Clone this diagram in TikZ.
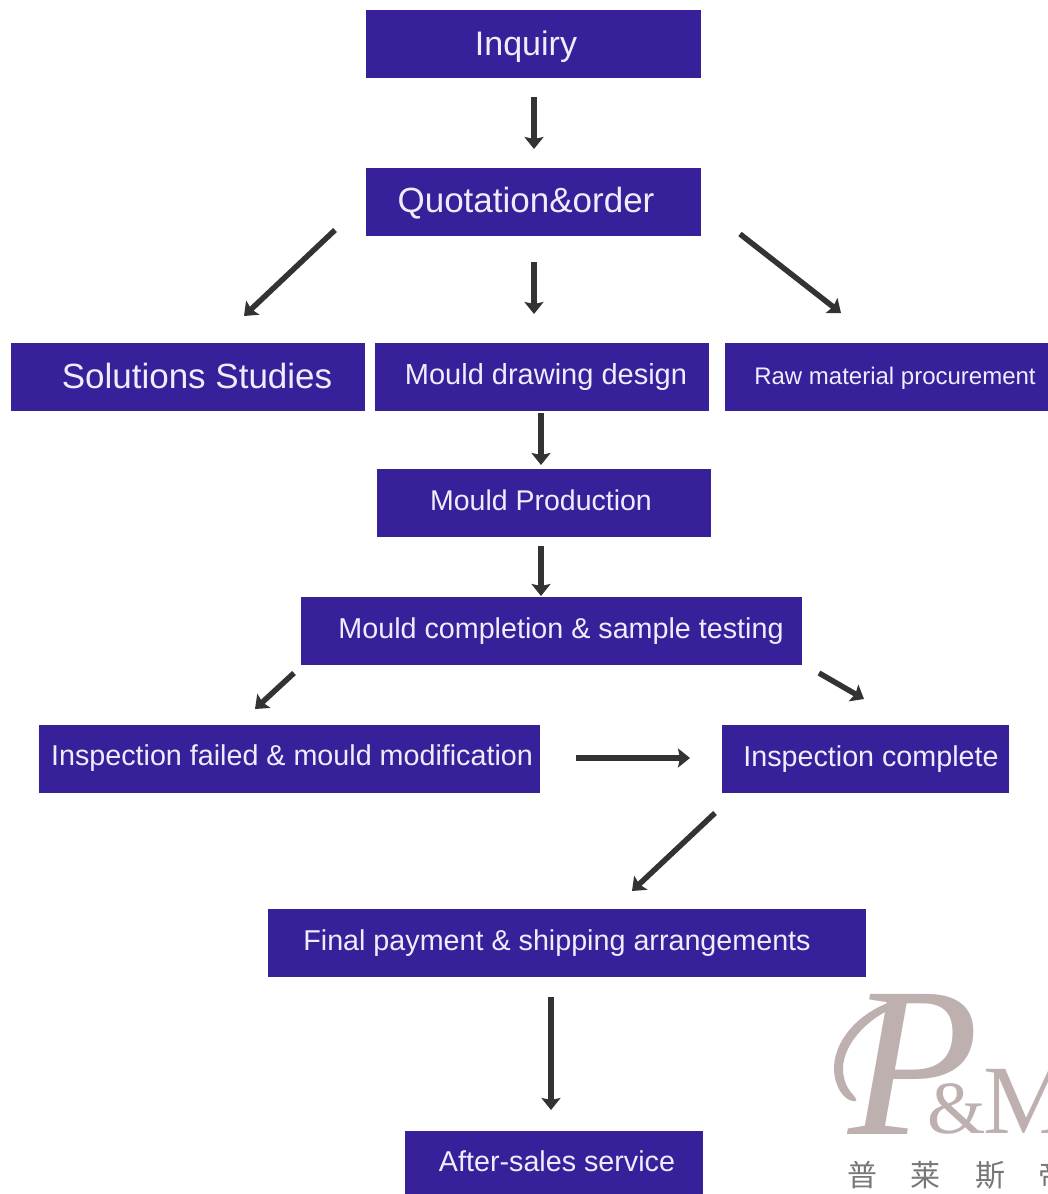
\documentclass[tikz,border=0pt]{standalone}
\usepackage{fontspec}
\setmainfont{Liberation Sans}
\newfontfamily\logoserif{Liberation Serif}
\newfontfamily\cjk{Noto Sans CJK SC}
\usetikzlibrary{arrows.meta}
\definecolor{boxblue}{HTML}{38209A}
\definecolor{arrowgray}{HTML}{333333}
\definecolor{logopink}{HTML}{BFB0B0}
\definecolor{cjkgray}{HTML}{777777}
\definecolor{labeltext}{HTML}{F1ECFB}
\tikzset{
  x=1pt,y=-1pt,
  flowbox/.style={fill=boxblue,draw=none,inner sep=0pt,anchor=north west},
  flowtext/.style={text=labeltext,inner sep=0pt,anchor=base,font=\fontsize{#1}{#1}\selectfont},
  flowtext/.default=30,
  flowarrow/.style={draw=arrowgray,line width=5.5pt,-{Stealth[length=12pt,width=19pt,inset=2pt]}},
  logotext/.style={text=logopink,inner sep=0pt,anchor=base west},
  cjktext/.style={text=cjkgray,inner sep=0pt,font=\cjk\fontsize{30}{30}\selectfont},
}
\begin{document}
\begin{tikzpicture}
\useasboundingbox (0,0) rectangle (1048,1194);
\begin{scope}
\clip (0,0) rectangle (1048,1194);
\fill[white] (0,0) rectangle (1048,1194);
\node[flowbox,minimum width=335pt,minimum height=68pt] (inq) at (366,10) {};
\node[flowbox,minimum width=335pt,minimum height=68pt] (quo) at (366,168) {};
\node[flowbox,minimum width=354pt,minimum height=68pt] (sol) at (11,343) {};
\node[flowbox,minimum width=334pt,minimum height=68pt] (draw) at (375,343) {};
\node[flowbox,minimum width=330pt,minimum height=68pt] (raw) at (725,343) {};
\node[flowbox,minimum width=334pt,minimum height=68pt] (prod) at (377,469) {};
\node[flowbox,minimum width=501pt,minimum height=68pt] (comp) at (301,597) {};
\node[flowbox,minimum width=501pt,minimum height=68pt] (fail) at (39,725) {};
\node[flowbox,minimum width=287pt,minimum height=68pt] (insp) at (722,725) {};
\node[flowbox,minimum width=598pt,minimum height=68pt] (final) at (268,909) {};
\node[flowbox,minimum width=298pt,minimum height=70pt] (after) at (405,1131) {};

\node[flowtext=34] (tinq) at (526,55) {Inquiry};
\node[flowtext=35] (tquo) at (526,212) {Quotation\&order};
\node[flowtext=35] (tsol) at (197,388) {Solutions Studies};
\node[flowtext=29] (tdraw) at (546,384) {Mould drawing design};
\node[flowtext=24] (traw) at (895,384) {Raw material procurement};
\node[flowtext=28.5] (tprod) at (541,510) {Mould Production};
\node[flowtext=28.7] (tcomp) at (561,638) {Mould completion \& sample testing};
\node[flowtext=28.7] (tfail) at (292,765) {Inspection failed \& mould modification};
\node[flowtext=28.7] (tinsp) at (871,766) {Inspection complete};
\node[flowtext=28.7] (tfinal) at (557,950) {Final payment \& shipping arrangements};
\node[flowtext=28.7] (tafter) at (557,1171) {After-sales service};

\coordinate (a1s) at (534,97);   \coordinate (a1e) at (534,149);
\coordinate (a2s) at (335,230);  \coordinate (a2e) at (244,316);
\coordinate (a3s) at (534,262);  \coordinate (a3e) at (534,314);
\coordinate (a4s) at (740,234);  \coordinate (a4e) at (841,313);
\coordinate (a5s) at (541,413);  \coordinate (a5e) at (541,465);
\coordinate (a6s) at (541,546);  \coordinate (a6e) at (541,596);
\coordinate (a7s) at (294,673);  \coordinate (a7e) at (255,709);
\coordinate (a8s) at (819,673);  \coordinate (a8e) at (864,699);
\coordinate (a9s) at (576,758);  \coordinate (a9e) at (690,758);
\coordinate (a10s) at (715,813); \coordinate (a10e) at (632,891);
\coordinate (a11s) at (551,997); \coordinate (a11e) at (551,1110);
\draw[flowarrow] (a1s) -- (a1e);
\draw[flowarrow] (a2s) -- (a2e);
\draw[flowarrow] (a3s) -- (a3e);
\draw[flowarrow] (a4s) -- (a4e);
\draw[flowarrow] (a5s) -- (a5e);
\draw[flowarrow] (a6s) -- (a6e);
\draw[flowarrow] (a7s) -- (a7e);
\draw[flowarrow] (a8s) -- (a8e);
\draw[flowarrow] (a9s) -- (a9e);
\draw[flowarrow] (a10s) -- (a10e);
\draw[flowarrow] (a11s) -- (a11e);

\fill[logopink] (928,996) .. controls (880,994) and (833,1030) .. (834,1070)
  .. controls (835,1090) and (847,1103) .. (856,1101)
  .. controls (858,1096) and (844,1092) .. (843,1070)
  .. controls (842,1040) and (880,1002) .. (928,1000) -- cycle;
\node[logotext,font=\logoserif\itshape\fontsize{214}{214}\selectfont] (logop) at (848,1134) {P};
\node[logotext,font=\logoserif\fontsize{75}{75}\selectfont] (logoamp) at (927,1133) {\&};
\node[logotext,font=\logoserif\fontsize{98}{98}\selectfont] (logom) at (983,1133) {M};
\node[cjktext] (c1) at (862,1175) {普};
\node[cjktext] (c2) at (925,1175) {莱};
\node[cjktext] (c3) at (990,1175) {斯};
\node[cjktext] (c4) at (1053,1175) {帝};
\end{scope}
\end{tikzpicture}
\end{document}
